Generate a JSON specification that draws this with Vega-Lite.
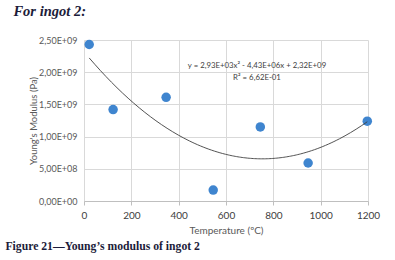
{
  "$schema": "https://vega.github.io/schema/vega-lite/v6.json",
  "background": "white",
  "padding": {"left": 5, "top": 3, "right": 5, "bottom": 5},
  "title": {"text": "For ingot 2:", "anchor": "start", "dx": 8, "font": "Liberation Serif", "fontSize": 14.5, "fontStyle": "italic", "fontWeight": "bold", "color": "#1c1c3a", "offset": 17},
  "config": {"view": {"stroke": null}, "concat": {"spacing": 0}},
  "datasets": {
    "pts": [
      {"temp": 22, "E": 2.43e9},
      {"temp": 123, "E": 1.42e9},
      {"temp": 347, "E": 1.61e9},
      {"temp": 546, "E": 0.17e9},
      {"temp": 745, "E": 1.15e9},
      {"temp": 947, "E": 0.59e9},
      {"temp": 1197, "E": 1.24e9}
    ],
    "eq": [
      {"temp": 731, "E": 2.10e9, "label": "y = 2,93E+03x² - 4,43E+06x + 2,32E+09"},
      {"temp": 731, "E": 1.91e9, "label": "R² = 6,62E-01"}
    ]
  },
  "vconcat": [
    {
      "width": 284,
      "height": 161,
      "title": {"text": "Figure 21—Young’s modulus of ingot 2", "orient": "bottom", "anchor": "start", "frame": "bounds", "dx": -23, "font": "Liberation Serif", "fontSize": 11.7, "fontWeight": "bold", "color": "#1c1c3a", "offset": 6},
      "layer": [
        {
          "data": {"name": "pts"},
          "mark": {"type": "circle", "size": 90, "opacity": 1, "color": "#3f85cf"},
          "encoding": {
            "x": {"field": "temp", "type": "quantitative", "scale": {"domain": [0, 1200], "nice": false},
              "axis": {"tickCount": 6, "format": "d", "title": "Temperature (ºC)", "titleFont": "Lato", "titleFontSize": 10, "titleFontWeight": "normal", "titleColor": "#595959", "titlePadding": 5,
                "labelFont": "Lato", "labelFontSize": 10, "labelColor": "#404040", "labelPadding": 5, "labelOverlap": false,
                "domainColor": "#bfbfbf", "tickColor": "#bfbfbf", "tickSize": 4, "gridColor": "#d9d9d9", "labelFlush": false}},
            "y": {"field": "E", "type": "quantitative", "scale": {"domain": [0, 2.5e9], "nice": false},
              "axis": {"tickCount": 6, "title": "Young's Modulus (Pa)", "titleFont": "Lato", "titleFontSize": 9.5, "titleFontWeight": "normal", "titleColor": "#595959", "titlePadding": 0,
                "labelExpr": "datum.value == 0 ? '0,00E+00' : (datum.value < 1e9 ? replace(format(datum.value/1e8, '.2f'), '.', ',') + 'E+08' : replace(format(datum.value/1e9, '.2f'), '.', ',') + 'E+09')",
                "labelFont": "Lato", "labelFontSize": 9, "labelColor": "#595959", "labelPadding": 7, "labelOverlap": false,
                "domain": false, "ticks": false, "gridColor": "#d9d9d9", "labelFlush": false}}
          }
        },
        {
          "data": {"name": "pts"},
          "transform": [{"regression": "E", "on": "temp", "method": "poly", "order": 2}],
          "mark": {"type": "line", "color": "#404040", "strokeWidth": 0.9, "interpolate": "monotone"},
          "encoding": {
            "x": {"field": "temp", "type": "quantitative"},
            "y": {"field": "E", "type": "quantitative"}
          }
        },
        {
          "data": {"name": "eq"},
          "mark": {"type": "text", "font": "Lato", "fontSize": 7.8, "color": "#404040"},
          "encoding": {
            "x": {"field": "temp", "type": "quantitative"},
            "y": {"field": "E", "type": "quantitative"},
            "text": {"field": "label"}
          }
        }
      ]
    }
  ]
}
